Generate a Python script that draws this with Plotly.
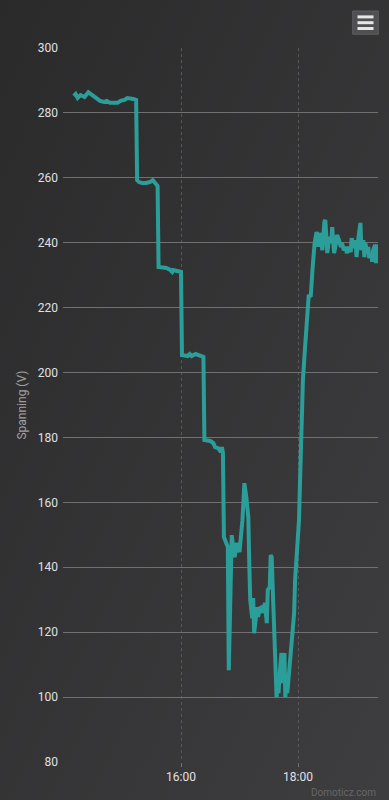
import plotly.graph_objects as go

# ---- data ----
times = [
    "14:10", "14:12", "14:14", "14:17", "14:21", "14:25", "14:29", "14:33", "14:37", "14:41",
    "14:44", "14:47", "14:51", "14:55", "14:58", "15:02", "15:05", "15:08", "15:11", "15:14",
    "15:15", "15:17", "15:20", "15:24", "15:28", "15:31", "15:33", "15:35", "15:36", "15:37",
    "15:42", "15:45", "15:49", "15:51", "15:52", "15:55", "15:59", "16:00", "16:01", "16:03",
    "16:07", "16:09", "16:11", "16:15", "16:19", "16:23", "16:24", "16:27", "16:30", "16:33",
    "16:35", "16:38", "16:41", "16:42", "16:43", "16:44", "16:45", "16:47", "16:48", "16:49",
    "16:51", "16:52", "16:53", "16:55", "16:57", "16:58", "17:00", "17:03", "17:04", "17:05",
    "17:07", "17:09", "17:10", "17:11", "17:13", "17:14", "17:15", "17:17", "17:18", "17:19",
    "17:21", "17:23", "17:24", "17:26", "17:28", "17:29", "17:31", "17:32", "17:33", "17:34",
    "17:36", "17:37", "17:38", "17:39", "17:40", "17:41", "17:43", "17:44", "17:46", "17:47",
    "17:48", "17:49", "17:51", "17:53", "17:54", "17:56", "17:57", "17:59", "18:00", "18:01",
    "18:02", "18:04", "18:05", "18:07", "18:09", "18:10", "18:11", "18:13", "18:14", "18:15",
    "18:17", "18:18", "18:19", "18:20", "18:21", "18:22", "18:23", "18:25", "18:26", "18:27",
    "18:28", "18:29", "18:30", "18:32", "18:34", "18:35", "18:36", "18:37", "18:39", "18:40",
    "18:42", "18:44", "18:45", "18:47", "18:49", "18:50", "18:52", "18:54", "18:55", "18:57",
    "18:59", "19:00", "19:02", "19:04", "19:05", "19:07", "19:08", "19:09", "19:11", "19:12",
    "19:13", "19:15", "19:16", "19:17", "19:19", "19:20", "19:21",
]
voltage = [
    285.2, 285.8, 284.6, 285.5, 284.9, 286.4, 285.5, 284.6, 283.7, 283.4,
    283.7, 283.1, 283.1, 283.1, 283.7, 284.0, 284.6, 284.6, 284.3, 284.0,
    259.3, 258.7, 258.4, 258.4, 258.7, 259.3, 258.7, 258.1, 257.5, 232.5,
    232.2, 232.2, 231.6, 231.0, 231.6, 231.3, 231.0, 231.0, 205.4, 205.4,
    205.1, 205.7, 205.1, 205.7, 205.4, 204.8, 179.2, 179.2, 178.9, 178.3,
    177.0, 176.7, 175.5, 177.0, 175.2, 149.3, 148.4, 146.8, 146.2, 108.3,
    142.2, 149.9, 147.5, 143.1, 147.5, 146.2, 144.7, 154.5, 162.9, 165.9,
    161.6, 155.5, 141.3, 129.9, 124.3, 130.5, 119.7, 126.2, 127.7, 124.7,
    127.4, 127.7, 125.9, 129.0, 122.8, 133.0, 133.9, 143.8, 143.1, 133.9,
    113.6, 106.2, 100.0, 105.2, 101.2, 106.2, 113.6, 104.3, 113.6, 100.0,
    105.2, 101.2, 108.3, 114.5, 120.6, 125.9, 136.1, 144.4, 146.8, 154.5,
    165.9, 185.4, 197.7, 206.9, 216.2, 216.8, 223.9, 223.3, 231.6, 232.5,
    239.9, 242.4, 243.3, 242.4, 238.7, 243.0, 241.8, 237.7, 243.9, 246.4,
    247.0, 241.8, 236.8, 241.8, 239.9, 244.8, 241.4, 236.8, 239.9, 242.4,
    240.8, 238.7, 239.9, 237.7, 238.7, 236.8, 238.7, 237.1, 241.4, 238.4,
    240.8, 235.6, 241.8, 246.1, 237.7, 240.8, 235.6, 239.9, 236.8, 238.7,
    235.3, 236.8, 234.1, 237.7, 239.3, 233.7, 239.5,
]
y_ticks = [80, 100, 120, 140, 160, 180, 200, 220, 240, 260, 280, 300]
x_tick_times = ["16:00", "18:00"]
x_range_times = ["13:59", "19:22"]
day = "2024-01-01 "

x_vals = [day + t for t in times]

# ---- layout geometry ----
W, H = 389, 800
ML, MR, MT, MB = 63, 11, 48, 38
PW, PH = W - ML - MR, H - MT - MB


def px(xp):
    return (xp - ML) / PW


def py(yp):
    return (H - MB - yp) / PH


fig = go.Figure()
fig.add_trace(go.Scatter(
    x=x_vals, y=voltage, mode="lines",
    line=dict(color="#2c9e9a", width=4, shape="linear"),
    hoverinfo="x+y", showlegend=False,
))

bg_svg = (
    "data:image/svg+xml;utf8,"
    "<svg xmlns='http://www.w3.org/2000/svg' width='389' height='800' preserveAspectRatio='none'>"
    "<defs><linearGradient id='g' x1='0' y1='0' x2='1' y2='1'>"
    "<stop offset='0' stop-color='%232a2a2b'/><stop offset='1' stop-color='%233e3e40'/>"
    "</linearGradient></defs><rect width='389' height='800' fill='url(%23g)'/></svg>"
)

shapes = [
    dict(type="rect", xref="paper", yref="paper",
         x0=px(352.7), x1=px(378.3), y0=py(34.3), y1=py(11),
         fillcolor="#505053", line=dict(color="#5c5c60", width=1), layer="above"),
]
for yy in (16.9, 22.7, 28.5):
    shapes.append(dict(type="line", xref="paper", yref="paper",
                       x0=px(357.5), x1=px(373.5), y0=py(yy), y1=py(yy),
                       line=dict(color="#e6e6e6", width=3), layer="above"))

fig.update_layout(
    width=W, height=H,
    margin=dict(l=ML, r=MR, t=MT, b=MB, pad=0),
    paper_bgcolor="#333335",
    plot_bgcolor="rgba(0,0,0,0)",
    font=dict(family="Roboto, 'Open Sans', sans-serif", color="#E0E0E3", size=12),
    images=[dict(source=bg_svg, xref="paper", yref="paper",
                 x=-ML / PW, y=1 + MT / PH, sizex=W / PW, sizey=H / PH,
                 xanchor="left", yanchor="top", sizing="stretch", layer="below")],
    shapes=shapes,
    annotations=[dict(text="Domoticz.com", xref="paper", yref="paper",
                      x=1, y=py(792), xanchor="right", yanchor="middle",
                      showarrow=False, font=dict(size=10, color="#666666"))],
    xaxis=dict(
        type="date",
        range=[day + x_range_times[0], day + x_range_times[1]],
        tickvals=[day + t for t in x_tick_times],
        ticktext=x_tick_times,
        showgrid=True, gridcolor="#58585b", griddash="dot", gridwidth=1,
        ticks="outside", ticklen=4, tickcolor="#707073",
        showline=False, zeroline=False,
        tickfont=dict(size=12, color="#E0E0E3"),
        fixedrange=True,
    ),
    yaxis=dict(
        range=[80, 300],
        tickvals=y_ticks,
        showgrid=True, gridcolor="#707073", gridwidth=1,
        zeroline=False, showline=False,
        ticks="", ticklabelstandoff=4,
        tickfont=dict(size=12, color="#E0E0E3"),
        title=dict(text="Spanning (V)", font=dict(size=12, color="#A0A0A3"), standoff=8),
        fixedrange=True,
    ),
    hovermode="closest",
)

fig.write_html(
    "out.html",
    config={"displayModeBar": False},
    post_script="document.body.style.margin='0';document.body.style.padding='0';document.body.style.overflow='hidden';",
)
